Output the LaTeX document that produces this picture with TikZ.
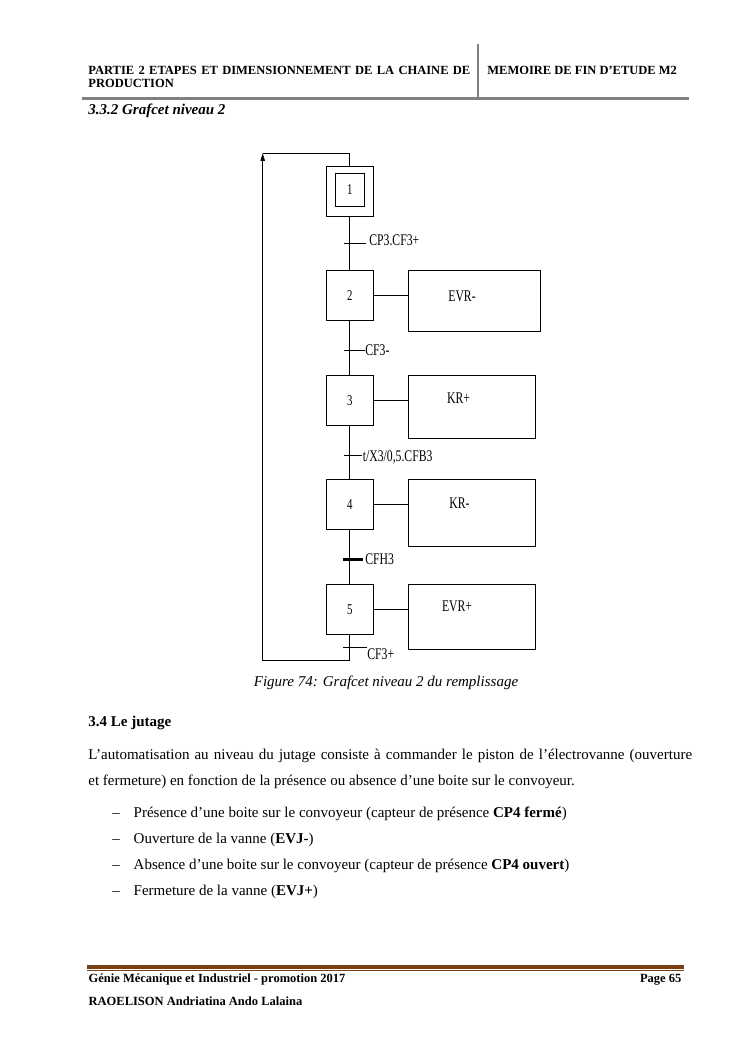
\documentclass[tikz,border=0pt]{standalone}
\usepackage{fontspec}
\setmainfont{Liberation Serif}
\newfontfamily\condfont[FakeStretch=0.72]{Liberation Serif}
\usetikzlibrary{arrows.meta}
\definecolor{hdrgray}{RGB}{128,128,128}
\definecolor{ftbrown}{RGB}{122,64,20}
\begin{document}
\begin{tikzpicture}[x=0.8pt,y=-0.8pt,line width=0.6pt,
  txt/.style={inner sep=0pt,anchor=base west,font=\fontsize{12}{14}\selectfont},
  hdr/.style={inner sep=0pt,anchor=base west,font=\bfseries\fontsize{10}{12}\selectfont},
  stepbox/.style={draw,minimum width=37.6pt,minimum height=40pt,inner sep=0pt,font=\condfont\fontsize{12}{14}\selectfont},
  actbox/.style={draw,inner sep=0pt},
  glabel/.style={inner sep=0pt,anchor=base west,font=\condfont\fontsize{13}{15}\selectfont},
  tick/.style={line width=0.6pt},
  thicktick/.style={line width=2.4pt}]
\useasboundingbox[fill=white] (0,0) rectangle (745,1053);

% header
\node[hdr] (h1) at (88,74.3) {\makebox[305.6pt][s]{PARTIE 2 ETAPES ET DIMENSIONNEMENT DE LA CHAINE DE}};
\node[hdr] (h2) at (88,87.3) {PRODUCTION};
\node[hdr] (h3) at (487,74.3) {MEMOIRE DE FIN D’ETUDE M2};
\coordinate (hl) at (82,98.3);
\coordinate (hr) at (689,98.3);
\coordinate (vt) at (478.3,44);
\coordinate (vb) at (478.3,98.3);
\draw[hdrgray,line width=2pt] (hl) -- (hr);
\draw[hdrgray,line width=1.8pt] (vt) -- (vb);

\node[txt,font=\bfseries\itshape\fontsize{12}{14}\selectfont] (sec) at (88,114) {3.3.2 Grafcet niveau 2};

% grafcet steps
\node[stepbox,minimum height=40pt] (s1) at (349.8,191.7) {};
\node[draw,minimum width=23.2pt,minimum height=26.7pt,inner sep=0pt,font=\condfont\fontsize{12}{14}\selectfont] (s1i) at (349.8,190) {1};
\node[stepbox] (s2) at (349.8,295.8) {2};
\node[stepbox] (s3) at (349.8,400.3) {3};
\node[stepbox] (s4) at (349.8,504.7) {4};
\node[stepbox] (s5) at (349.8,609.3) {5};

% actions
\node[actbox,minimum width=105.4pt,minimum height=48.2pt] (a2) at (474.2,300.9) {};
\node[actbox,minimum width=101.9pt,minimum height=50.4pt] (a3) at (472,406.8) {};
\node[actbox,minimum width=101.9pt,minimum height=53.4pt] (a4) at (472,512.7) {};
\node[actbox,minimum width=101.9pt,minimum height=52pt] (a5) at (472,616.8) {};
\draw (s2.east) -- (s2.east -| a2.west);
\draw (s3.east) -- (s3.east -| a3.west);
\draw (s4.east) -- (s4.east -| a4.west);
\draw (s5.east) -- (s5.east -| a5.west);
\node[glabel] (e2) at (448,301.7) {EVR-};
\node[glabel] (e3) at (446.7,403) {KR+};
\node[glabel] (e4) at (449,508) {KR-};
\node[glabel] (e5) at (441.7,611.7) {EVR+};

% links
\draw (s1.south) -- (s2.north);
\draw (s2.south) -- (s3.north);
\draw (s3.south) -- (s4.north);
\draw (s4.south) -- (s5.north);

% transitions
\coordinate (t1a) at (344,243);  \coordinate (t1b) at (366,243);
\coordinate (t2a) at (344,350);  \coordinate (t2b) at (365,350);
\coordinate (t3a) at (344,455.7);\coordinate (t3b) at (362,455.7);
\coordinate (t4a) at (343,559);  \coordinate (t4c) at (363,559);
\coordinate (t5a) at (343,647.3);\coordinate (t5b) at (367,647.3);
\draw[tick] (t1a) -- (t1b);
\draw[tick] (t2a) -- (t2b);
\draw[tick] (t3a) -- (t3b);
\draw[thicktick] (t4a) -- (t4c);
\draw[tick] (t5a) -- (t5b);
\node[glabel] (l1) at (369,245.5) {CP3.CF3+};
\node[glabel] (l2) at (365,355.5) {CF3-};
\node[glabel] (l3) at (362.5,461.5) {t/X3/0,5.CFB3};
\node[glabel] (l4) at (365,564.5) {CFH3};
\node[glabel] (l5) at (367,659.5) {CF3+};

% loop back
\coordinate (lb) at (262.7,660);
\coordinate (lt) at (262.7,153.3);
\draw[-{Triangle[length=6pt,width=3.5pt]}] (s5.south) |- (lb) -- (lt);
\draw (lt) -| (s1.north);

\node[txt,font=\itshape\fontsize{12}{14}\selectfont] (cap) at (253.5,686.7) {Figure 74: Grafcet niveau 2 du remplissage};

% body
\node[txt,font=\bfseries\fontsize{12}{14}\selectfont] (s34) at (88,726) {3.4 Le jutage};
\node[txt] (p1) at (88,759) {\makebox[483pt][s]{L’automatisation au niveau du jutage consiste à commander le piston de l’électrovanne (ouverture}};
\node[txt] (p2) at (88,785) {et fermeture) en fonction de la présence ou absence d’une boite sur le convoyeur.};
\node[txt] (d1) at (112,817.7) {–};
\node[txt] (b1) at (133.3,817.7) {Présence d’une boite sur le convoyeur (capteur de présence \textbf{CP4 fermé})};
\node[txt] (d2) at (112,843.5) {–};
\node[txt] (b2) at (133.3,843.5) {Ouverture de la vanne (\textbf{EVJ-})};
\node[txt] (d3) at (112,869.3) {–};
\node[txt] (b3) at (133.3,869.3) {Absence d’une boite sur le convoyeur (capteur de présence \textbf{CP4 ouvert})};
\node[txt] (d4) at (112,895) {–};
\node[txt] (b4) at (133.3,895) {Fermeture de la vanne (\textbf{EVJ+})};

% footer
\coordinate (fl) at (87.3,967);  \coordinate (fr) at (684,967);
\coordinate (fl2) at (87.3,970.8); \coordinate (fr2) at (684,970.8);
\draw[ftbrown,line width=3.2pt] (fl) -- (fr);
\draw[ftbrown,line width=0.8pt] (fl2) -- (fr2);
\node[hdr] (f1) at (88.3,982.3) {Génie Mécanique et Industriel - promotion 2017};
\node[hdr,anchor=base east] (f2) at (681.7,982.3) {Page 65};
\node[hdr] (f3) at (88.3,1005.7) {RAOELISON Andriatina Ando Lalaina};
\end{tikzpicture}
\end{document}
